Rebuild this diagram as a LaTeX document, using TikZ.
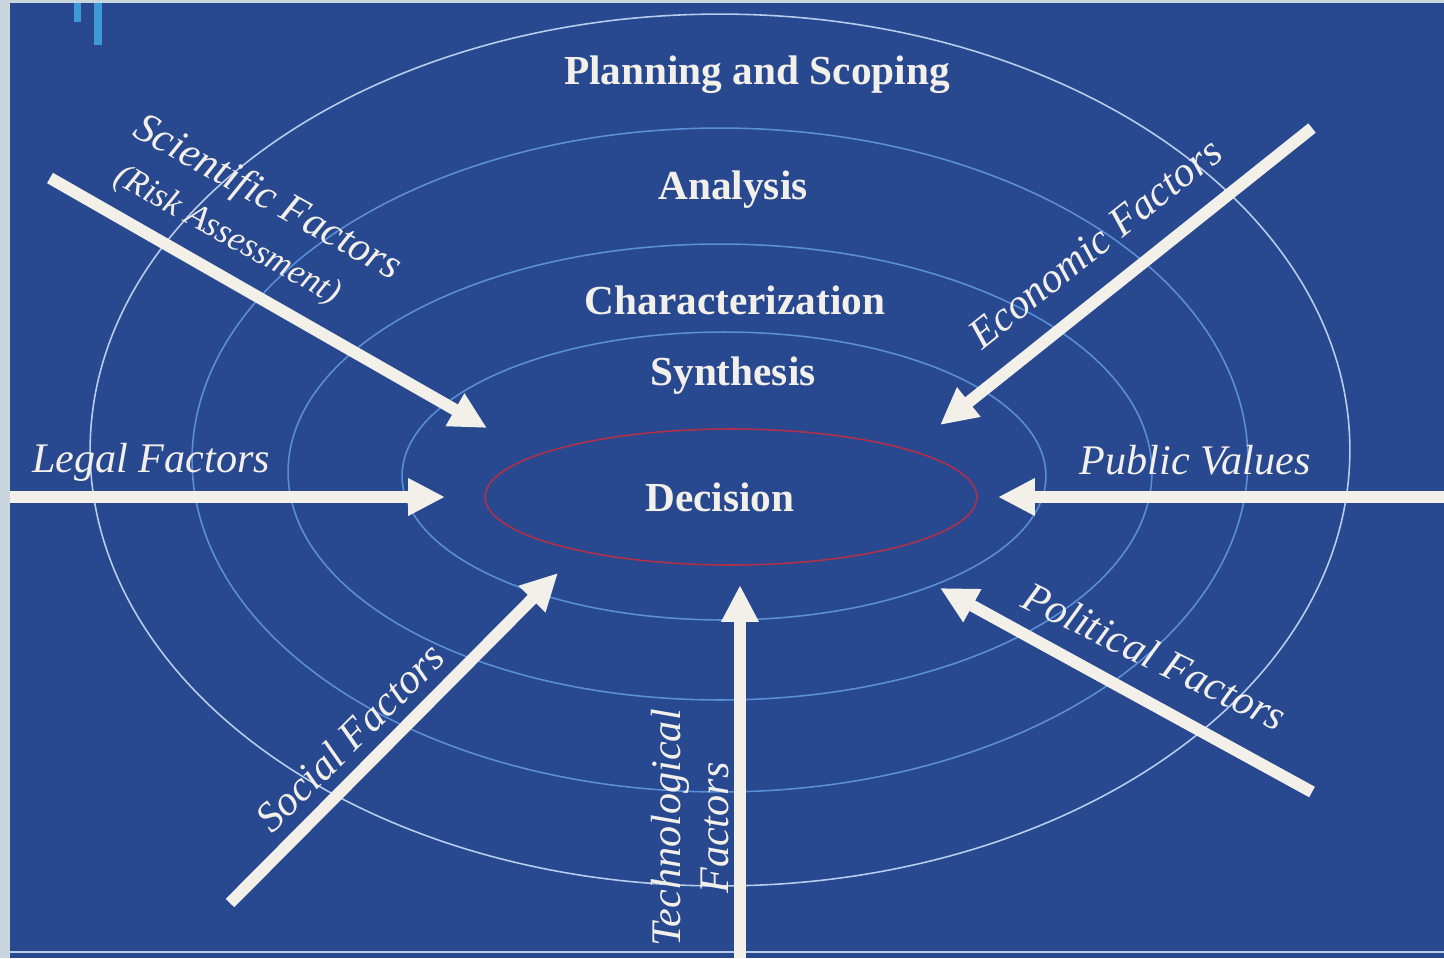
\documentclass[tikz,border=0pt]{standalone}
\usepackage{fontspec}
\setmainfont{Liberation Serif}
\usetikzlibrary{arrows.meta}
\definecolor{bgblue}{HTML}{284890}
\definecolor{edgegray}{HTML}{C9D6DE}
\definecolor{markblue}{HTML}{3E9AD6}
\definecolor{ringblue}{HTML}{5A8FD8}
\definecolor{outerring}{HTML}{B8CDEB}
\definecolor{redring}{HTML}{B0304A}
\definecolor{txt}{HTML}{F3F0EA}
\begin{document}
\begin{tikzpicture}[x=0.02cm,y=-0.02cm,
  ring/.style={draw=ringblue, line width=0.9pt},
  stage/.style={text=txt, font=\fontsize{23.5}{26}\selectfont\bfseries, inner sep=0pt},
  factor/.style={text=txt, font=\fontsize{24}{27}\selectfont\itshape, inner sep=0pt, align=center},
  push/.style={draw=txt, line width=6.8pt, -{Triangle[width=20pt,length=21pt]}},
]
\fill[bgblue] (0,0) rectangle (1444,958);
\useasboundingbox (0,0) rectangle (1444,958);
\clip (0,0) rectangle (1444,958);
% frame details
\fill[edgegray] (0,0) rectangle (10,958);
\fill[edgegray] (0,0) rectangle (1444,3);
\draw[outerring, line width=1.2pt] (10,952) -- (1444,952);
\fill[markblue] (74,3) rectangle (81,22);
\fill[markblue] (94,3) rectangle (102,45);
% rings
\draw[ring, draw=outerring] (720,450) ellipse [x radius=12.6cm, y radius=8.72cm];
\draw[ring] (720,460) ellipse [x radius=10.56cm, y radius=6.64cm];
\draw[ring] (720,472) ellipse [x radius=8.64cm, y radius=4.56cm];
\draw[ring] (724,476) ellipse [x radius=6.44cm, y radius=2.88cm];
\draw[draw=redring, line width=0.9pt] (731,497) ellipse [x radius=4.92cm, y radius=1.36cm];
% stage labels
\node[stage] (plan) at (757,75) {Planning and Scoping};
\node[stage] (ana) at (733,190) {Analysis};
\node[stage] (cha) at (735,300) {Characterization};
\node[stage] (syn) at (733,376) {Synthesis};
\node[stage] (dec) at (720,497) {Decision};
% arrows
\coordinate (sciT) at (50,178);   \coordinate (sciH) at (487,428);
\coordinate (ecoT) at (1312,128); \coordinate (ecoH) at (940,425);
\coordinate (legT) at (10,497);   \coordinate (legH) at (445,497);
\coordinate (pubT) at (1444,497); \coordinate (pubH) at (998,497);
\coordinate (polT) at (1312,792); \coordinate (polH) at (940,588);
\coordinate (tecT) at (740,958);  \coordinate (tecH) at (740,585);
\coordinate (socT) at (230,903);  \coordinate (socH) at (558,573);
\draw[push] (sciT) -- (sciH);
\draw[push] (ecoT) -- (ecoH);
\draw[push] (legT) -- (legH);
\draw[push] (pubT) -- (pubH);
\draw[push] (polT) -- (polH);
\draw[push] (tecT) -- (tecH);
\draw[push] (socT) -- (socH);
% factor labels
\node[factor, rotate=-29] (sci) at (267,199) {Scientific Factors};
\node[factor, rotate=-29, font=\fontsize{20}{24}\selectfont\itshape] (risk) at (227,236) {(Risk Assessment)};
\node[factor, rotate=38.6] (eco) at (1095,243) {Economic Factors};
\node[factor] (leg) at (151,462) {Legal Factors};
\node[factor] (pub) at (1195,460) {Public Values};
\node[factor, rotate=-26] (pol) at (1155,656) {Political Factors};
\node[factor, rotate=45] (soc) at (350,737) {Social Factors};
\node[factor, rotate=90] (tec) at (690,828) {Technological\\Factors};
\end{tikzpicture}
\end{document}
